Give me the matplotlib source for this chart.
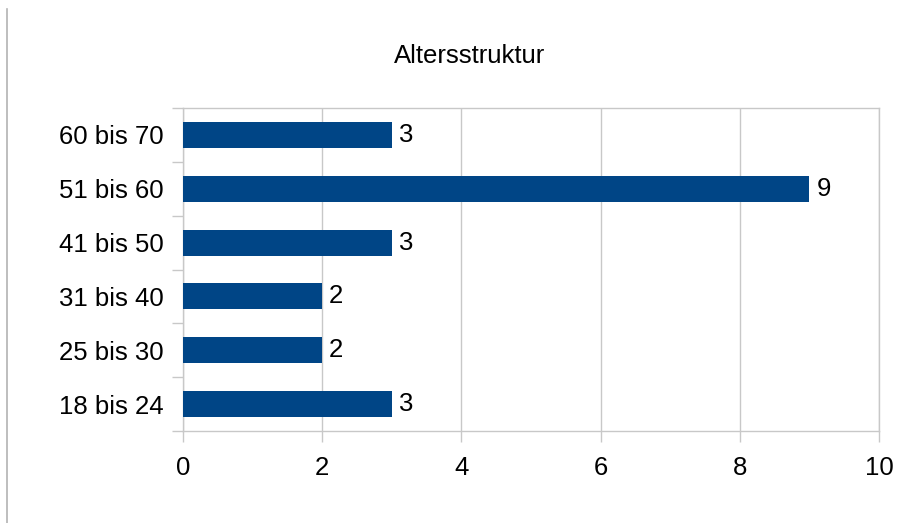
import matplotlib
matplotlib.use("Agg")
import matplotlib.pyplot as plt
from matplotlib.lines import Line2D

categories = ["18 bis 24", "25 bis 30", "31 bis 40", "41 bis 50", "51 bis 60", "60 bis 70"]
values = [3, 2, 2, 3, 9, 3]
xticks = [0, 2, 4, 6, 8, 10]
title = "Altersstruktur"

plt.rcParams['font.family'] = ['Liberation Sans', 'DejaVu Sans']

W, H = 909, 523
fig = plt.figure(figsize=(W / 100, H / 100), dpi=100)
ax = fig.add_axes([183 / W, 1 - 431 / H, (879 - 183) / W, (431 - 108) / H])

bar_color = "#004586"
grid_color = "#c8c8c8"
fs = 18.5

ypos = list(range(len(categories)))
bars = ax.barh(ypos, values, height=0.48, color=bar_color, zorder=3)
for y, v in zip(ypos, values):
    ax.annotate(str(v), xy=(v, y), xytext=(5, 0), textcoords="offset points",
                ha="left", va="center", fontsize=fs, color="black", zorder=4)

ax.set_xlim(0, 10)
ax.set_ylim(-0.5, len(categories) - 0.5)
ax.set_xticks(xticks)
ax.set_xticklabels([str(t) for t in xticks])
ax.set_yticks(ypos)
ax.set_yticklabels(categories)
ax.tick_params(axis="y", length=0, pad=14, labelsize=fs)
ax.set_yticks([y - 0.5 for y in ypos] + [len(categories) - 0.5], minor=True)
ax.tick_params(axis="y", which="minor", length=8, width=1, color=grid_color)
ax.tick_params(axis="x", length=8, width=1, color=grid_color, pad=10, labelsize=fs)

ax.grid(axis="x", color=grid_color, linewidth=1, zorder=0)
for s in ax.spines.values():
    s.set_color(grid_color)
    s.set_linewidth(1)

fig.text(469.5 / W, 1 - 56 / H, title, ha="center", va="center", fontsize=fs)

fig.add_artist(Line2D([7 / W, 7 / W], [0, 1 - 9 / H], color="#b3b3b3", linewidth=1.2,
                      transform=fig.transFigure))

fig.savefig("out.png", dpi=100, facecolor="white")
